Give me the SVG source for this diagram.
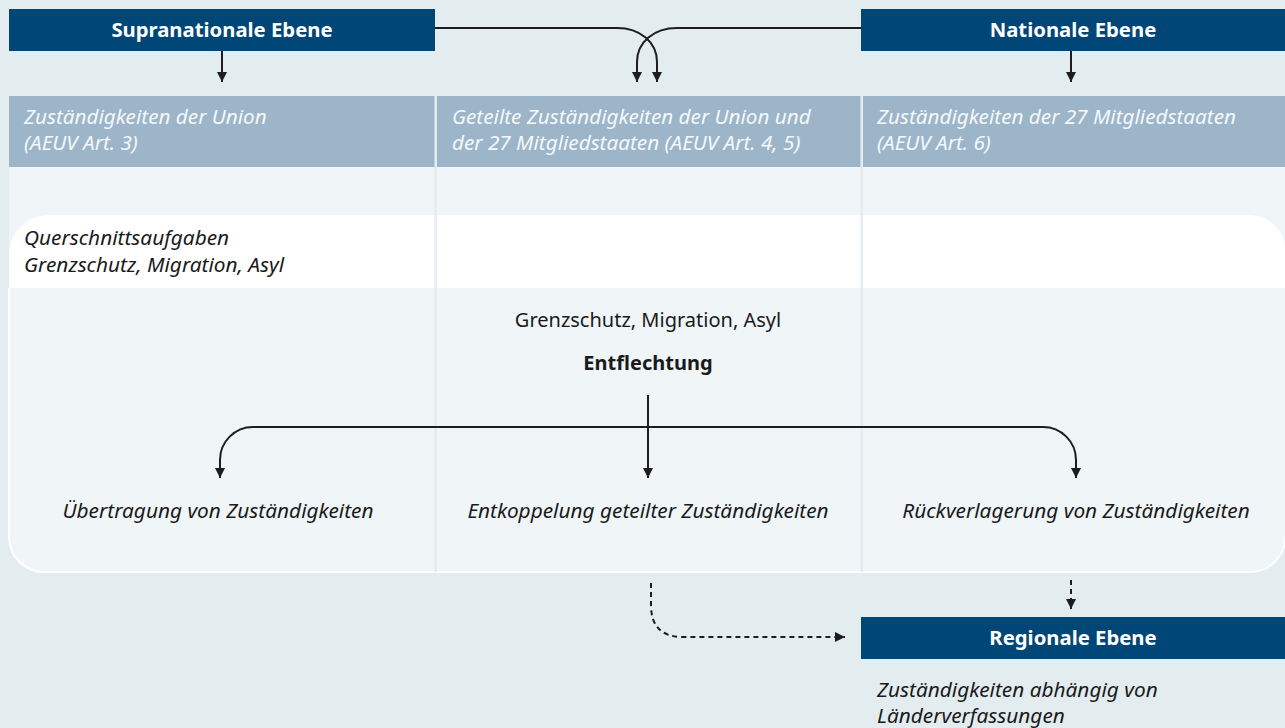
<svg xmlns="http://www.w3.org/2000/svg" width="1285" height="728" viewBox="0 0 1285 728">
<defs>
<marker id="ah" viewBox="0 0 10 10" refX="10" refY="5" markerWidth="10" markerHeight="11" markerUnits="userSpaceOnUse" orient="auto">
<path d="M0,0 L10,5 L0,10 Z" fill="#1e1e1e"/>
</marker>
<style>
.lvl{fill:#004677}
.lvlt{font-family:"Noto Sans","Open Sans",sans-serif;font-weight:bold;font-size:20.3px;fill:#fff;text-anchor:middle}
.strip{fill:#9cb5c9}
.stript{font-family:"Noto Sans","Open Sans",sans-serif;font-style:italic;font-size:20.7px;fill:#f5f8fa}
.it{font-family:"Noto Sans","Open Sans",sans-serif;font-style:italic;font-size:20.8px;fill:#1a1a1a}
.rg{font-family:"Noto Sans","Open Sans",sans-serif;font-size:20px;fill:#1a1a1a}
.c{text-anchor:middle}
.ln{fill:none;stroke:#1e1e1e;stroke-width:2}
.dash{stroke-dasharray:5 4}
</style>
</defs>
<rect x="0" y="0" width="1285" height="728" fill="#e3ecef"/>
<g id="card">
<path d="M9,96 H1285 V537 A35,35 0 0 1 1250,572 H44 A35,35 0 0 1 9,537 Z" fill="#f0f5f8"/>
<path d="M9,288 V537 A35,35 0 0 0 44,572 H1250 A35,35 0 0 0 1285,537" fill="none" stroke="#ffffff" stroke-width="2"/>
<path d="M9,255 A40,40 0 0 1 49,215 H1250 A35,35 0 0 1 1285,250 V288 H9 Z" fill="#ffffff"/>
<rect x="434.5" y="96" width="2.5" height="476" fill="#e3ecef"/>
<rect x="860.5" y="96" width="2.5" height="476" fill="#e3ecef"/>
</g>
<g id="col1">
<rect class="strip" x="9" y="96" width="425.5" height="71"/>
<text class="stript" x="24" y="124">Zuständigkeiten der Union</text>
<text class="stript" x="24" y="150">(AEUV Art. 3)</text>
</g>
<g id="col2">
<rect class="strip" x="437" y="96" width="423.5" height="71"/>
<text class="stript" x="452" y="124">Geteilte Zuständigkeiten der Union und</text>
<text class="stript" x="452" y="150">der 27 Mitgliedstaaten (AEUV Art. 4, 5)</text>
</g>
<g id="col3">
<rect class="strip" x="863" y="96" width="422" height="71"/>
<text class="stript" x="877" y="124">Zuständigkeiten der 27 Mitgliedstaaten</text>
<text class="stript" x="877" y="150">(AEUV Art. 6)</text>
</g>
<g id="supranational">
<rect class="lvl" x="9" y="9" width="426" height="42"/>
<text class="lvlt" x="222" y="37">Supranationale Ebene</text>
</g>
<g id="national">
<rect class="lvl" x="861" y="9" width="424" height="42"/>
<text class="lvlt" x="1073" y="37">Nationale Ebene</text>
</g>
<g id="regional">
<rect class="lvl" x="861" y="617" width="424" height="42"/>
<text class="lvlt" x="1073" y="645">Regionale Ebene</text>
<text class="it" x="877" y="697">Zuständigkeiten abhängig von</text>
<text class="it" x="877" y="723">Länderverfassungen</text>
</g>
<g id="querschnitt">
<text class="it" x="24" y="245">Querschnittsaufgaben</text>
<text class="it" x="24" y="272">Grenzschutz, Migration, Asyl</text>
</g>
<g id="entflechtung">
<text class="rg c" x="648" y="327">Grenzschutz, Migration, Asyl</text>
<text class="rg c" x="648" y="370" font-weight="bold">Entflechtung</text>
</g>
<g id="uebertragung"><text class="it c" x="218" y="518">Übertragung von Zuständigkeiten</text></g>
<g id="entkoppelung"><text class="it c" x="648" y="518">Entkoppelung geteilter Zuständigkeiten</text></g>
<g id="rueckverlagerung"><text class="it c" x="1076" y="518">Rückverlagerung von Zuständigkeiten</text></g>
<g id="connectors">
<path class="ln" d="M222,51 V82" marker-end="url(#ah)"/>
<path class="ln" d="M1071,51 V82" marker-end="url(#ah)"/>
<path class="ln" d="M435,28 H617 C640,28 657,42 657,62 V82" marker-end="url(#ah)"/>
<path class="ln" d="M861,28 H677 C654,28 637,42 637,62 V82" marker-end="url(#ah)"/>
<path class="ln" d="M648,395 V478" marker-end="url(#ah)"/>
<path class="ln" d="M648,427 H253 A33,33 0 0 0 220,460 V478" marker-end="url(#ah)"/>
<path class="ln" d="M648,427 H1043 A33,33 0 0 1 1076,460 V478" marker-end="url(#ah)"/>
<path class="ln dash" d="M651,583 V605 Q651,637 683,637 H845" marker-end="url(#ah)"/>
<path class="ln dash" d="M1071,580 V609" marker-end="url(#ah)"/>
</g>
</svg>
